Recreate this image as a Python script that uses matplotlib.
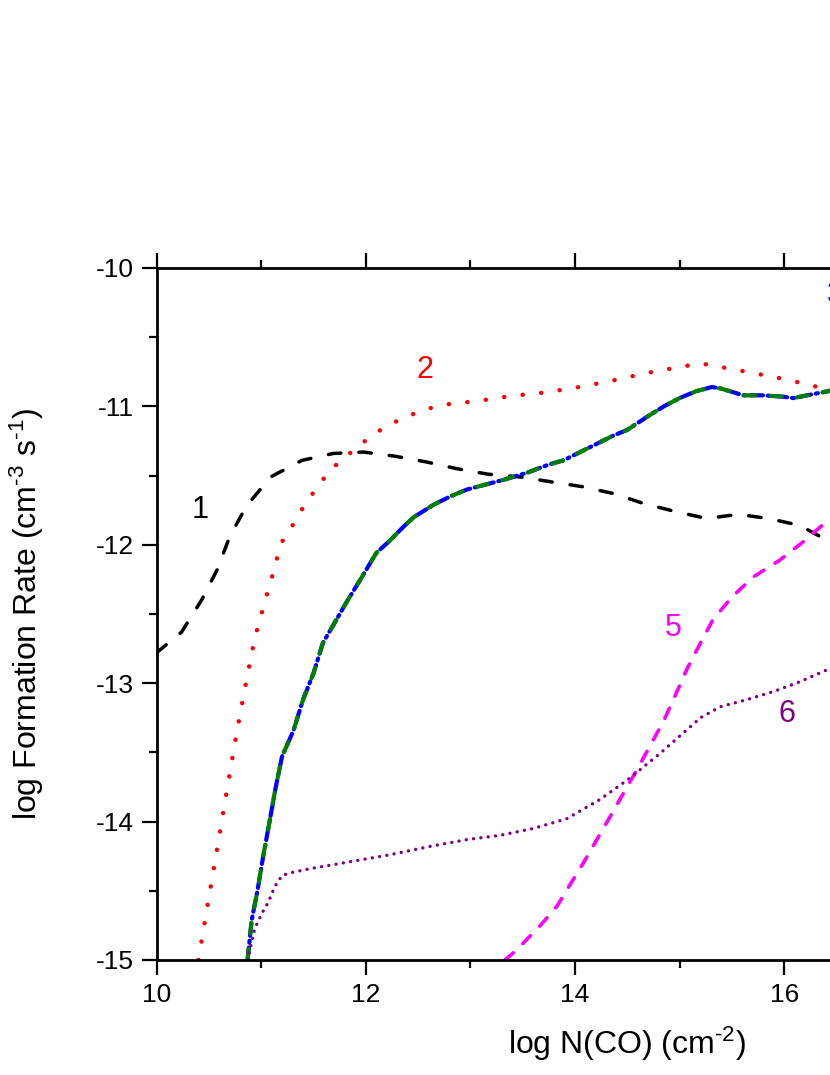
import numpy as np
import matplotlib
matplotlib.use('Agg')
import matplotlib.pyplot as plt
from matplotlib.ticker import MultipleLocator

plt.rcParams['font.family'] = ['Liberation Sans', 'DejaVu Sans']
plt.rcParams['mathtext.fontset'] = 'custom'
plt.rcParams['mathtext.rm'] = 'Liberation Sans'
plt.rcParams['mathtext.default'] = 'regular'
plt.rcParams['axes.unicode_minus'] = False
plt.rcParams['lines.scale_dashes'] = False

# curve 1 (black dashed)
n_co_1 = [10.0, 10.24, 10.43, 10.58, 10.70, 10.86, 11.09, 11.39, 11.69, 11.98, 12.28,
          12.57, 12.87, 13.17, 13.48, 13.73, 14.07, 14.37, 14.65, 14.96, 15.26, 15.56,
          15.85, 16.15, 16.44, 16.8]
rate_1 = [-12.78, -12.63, -12.40, -12.18, -11.94, -11.72, -11.51, -11.39, -11.34, -11.33, -11.36,
          -11.40, -11.45, -11.49, -11.51, -11.54, -11.58, -11.63, -11.70, -11.76, -11.81, -11.78,
          -11.81, -11.86, -11.98, -12.2]

# curve 2 (red dotted)
n_co_2 = [10.40, 10.50, 10.59, 10.68, 10.77, 10.87, 10.94, 11.04, 11.09, 11.19, 11.30, 11.41,
          11.53, 11.66, 11.83, 12.01, 12.18, 12.37, 12.54, 12.72, 13.08, 13.43, 13.61, 13.97,
          14.32, 14.68, 15.04, 15.21, 15.57, 15.92, 16.28, 16.44, 16.8]
rate_2 = [-15.0, -14.55, -14.15, -13.74, -13.34, -12.94, -12.67, -12.40, -12.27, -11.99, -11.86, -11.72,
          -11.59, -11.46, -11.35, -11.24, -11.15, -11.08, -11.03, -10.99, -10.96, -10.92, -10.91, -10.87,
          -10.82, -10.76, -10.71, -10.69, -10.74, -10.79, -10.85, -10.90, -11.0]

# curves 3 (blue dash-dot) and 4 (green dashed), overlapping in view
n_co_3 = [10.87, 10.91, 10.96, 11.02, 11.09, 11.14, 11.20, 11.31, 11.40, 11.50, 11.59, 11.69,
          11.82, 11.95, 12.10, 12.23, 12.36, 12.46, 12.65, 12.81, 12.97, 13.12, 13.32, 13.54,
          13.75, 13.89, 14.05, 14.21, 14.37, 14.50, 14.70, 14.85, 15.00, 15.16, 15.31, 15.39,
          15.48, 15.61, 15.80, 15.99, 16.09, 16.22, 16.42, 16.8]
rate_3 = [-15.0, -14.71, -14.52, -14.25, -13.96, -13.75, -13.53, -13.34, -13.12, -12.93, -12.71, -12.58,
          -12.41, -12.25, -12.06, -11.97, -11.87, -11.80, -11.71, -11.65, -11.60, -11.57, -11.53, -11.48,
          -11.42, -11.39, -11.33, -11.27, -11.21, -11.17, -11.07, -11.00, -10.94, -10.89, -10.86, -10.87,
          -10.89, -10.92, -10.92, -10.93, -10.94, -10.92, -10.89, -10.8]
n_co_4 = n_co_3
rate_4 = [-15.0, -14.71, -14.52, -14.25, -13.96, -13.75, -13.53, -13.34, -13.12, -12.93, -12.71, -12.58,
          -12.41, -12.25, -12.06, -11.97, -11.87, -11.80, -11.71, -11.65, -11.60, -11.57, -11.53, -11.48,
          -11.42, -11.39, -11.33, -11.27, -11.21, -11.17, -11.07, -11.00, -10.94, -10.89, -10.86, -10.87,
          -10.89, -10.92, -10.92, -10.93, -10.94, -10.92, -10.89, -10.85]

# curve 5 (magenta dashed)
n_co_5 = [13.33, 13.44, 13.67, 13.83, 13.95, 14.08, 14.21, 14.34, 14.46, 14.59, 14.72, 14.85,
          14.97, 15.07, 15.20, 15.32, 15.51, 15.71, 15.96, 16.18, 16.44, 16.8]
rate_5 = [-15.0, -14.93, -14.75, -14.61, -14.46, -14.30, -14.13, -13.96, -13.80, -13.63, -13.45, -13.27,
          -13.07, -12.90, -12.71, -12.54, -12.37, -12.23, -12.11, -11.98, -11.81, -11.55]

# curve 6 (purple dotted)
n_co_6 = [10.87, 10.94, 11.01, 11.07, 11.13, 11.20, 11.28, 11.47, 11.85, 12.23, 12.61, 12.97,
          13.28, 13.60, 13.92, 14.24, 14.50, 14.81, 15.20, 15.39, 15.64, 15.90, 16.15, 16.42, 16.8]
rate_6 = [-15.0, -14.77, -14.66, -14.58, -14.47, -14.39, -14.37, -14.34, -14.29, -14.24, -14.18, -14.13,
          -14.10, -14.05, -13.98, -13.84, -13.70, -13.51, -13.25, -13.17, -13.12, -13.06, -12.99, -12.90, -12.75]

# curve labels
label_text = ['1', '2', '3', '5', '6']
label_x = [10.42, 12.57, 16.49, 14.94, 16.03]
label_y = [-11.75, -10.74, -10.195, -12.60, -13.22]
label_color = ['black', 'red', 'blue', 'magenta', 'purple']

x_ticks = [10, 12, 14, 16]

fig = plt.figure(figsize=(8.3, 10.75), dpi=100)
# axes run past the right edge of the picture, as in the original crop
ax = fig.add_axes([0.1886, 0.1070, 1.1342, 0.6437])

ax.plot(n_co_1, rate_1, color='black', lw=2.5, dashes=(9, 13), dash_capstyle='round')
ax.plot(n_co_2, rate_2, color='red', lw=3.2, dashes=(0.1, 13.3), dash_capstyle='round')
ax.plot(n_co_3, rate_3, color='blue', lw=3.0, dashes=(9, 3.5, 1.5, 3.5), dash_capstyle='round')
ax.plot(n_co_4, rate_4, color='green', lw=3.0, dashes=(8, 11), dash_capstyle='round')
ax.plot(n_co_5, rate_5, color='magenta', lw=2.6, dashes=(8, 9.5), dash_capstyle='round')
ax.plot(n_co_6, rate_6, color='purple', lw=2.4, dashes=(0.1, 5.2), dash_capstyle='round')

for t, x, y, c in zip(label_text, label_x, label_y, label_color):
    ax.text(x, y, t, color=c, fontsize=22, ha='center', va='center')

ax.set_xlim(10, 19)
ax.set_ylim(-15, -10)
ax.set_xticks(x_ticks)
ax.xaxis.set_minor_locator(MultipleLocator(1))
ax.yaxis.set_major_locator(MultipleLocator(1))
ax.yaxis.set_minor_locator(MultipleLocator(0.5))

for s in ax.spines.values():
    s.set_linewidth(2)
ax.tick_params(which='major', direction='out', length=10.5, width=1.6, labelsize=19,
               pad=6, top=True, right=False)
ax.tick_params(which='minor', direction='out', length=5.5, width=1.6, top=True, right=False)

# plain hyphens in the superscripts, like the original
ax.set_xlabel(r'log N(CO) (cm$^{\text{-2}}$)', fontsize=23)
ax.set_ylabel(r'log Formation Rate (cm$^{\text{-3}}$ s$^{\text{-1}}$)', fontsize=23)
ax.xaxis.set_label_coords(0.5, -0.094)
ax.yaxis.set_label_coords(-0.117, 0.5)

fig.savefig('out.png', dpi=100)
